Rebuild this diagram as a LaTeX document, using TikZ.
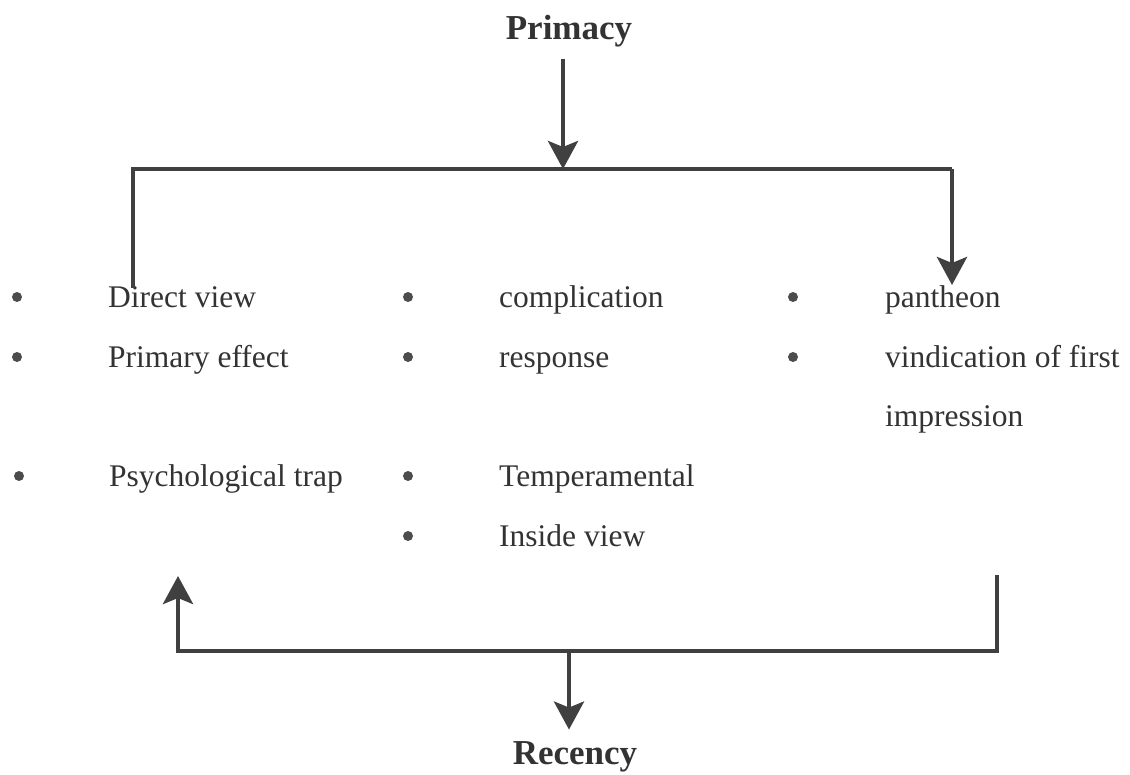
\documentclass[tikz,border=0pt]{standalone}
\usepackage{fontspec}
\setmainfont{Liberation Serif}
\usetikzlibrary{positioning, arrows.meta}

\begin{document}
\begin{tikzpicture}[
            x=1pt, y=-1pt,
            every node/.style={text=black!80},
            item/.style={anchor=base west, inner sep=0pt, font=\fontsize{31.5}{37}\selectfont},
            title/.style={inner sep=0pt, font=\fontsize{35}{42}\selectfont\bfseries},
            dot/.style={circle, fill=black!70, inner sep=0pt, minimum size=10pt},
            line/.style={draw=black!75, line width=4.5pt},
            arr/.style={line, -{Stealth[width=30pt, length=28pt, inset=6pt]}},
        ]
            \useasboundingbox (0,0) rectangle (1130,774);

            % titles
            \node[title] (prim) at (569,31) {Primacy};
            \node[title] (rec) at (575,757) {Recency};

            % corners of the two bars
            \coordinate (tl) at (133,169);
            \coordinate (tr) at (952,169);
            \coordinate (tmid) at (563,169);
            \coordinate (tlend) at (133,288);
            \coordinate (trend) at (952,285);
            \coordinate (bl) at (178,651);
            \coordinate (br) at (997,651);
            \coordinate (bmid) at (569,651);
            \coordinate (blend) at (178,576);
            \coordinate (brend) at (997,575);

            % first column
            \node[dot] (d1) at (17,297) {};
            \node[item] (a1) at (108,307) {Direct view};
            \node[dot] (d2) at (17,357) {};
            \node[item] (a2) at (108,367) {Primary effect};
            \node[dot] (d3) at (19,476) {};
            \node[item] (a3) at (109,486) {Psychological trap};

            % second column
            \node[dot] (e1) at (408,297) {};
            \node[item] (b1) at (499,307) {complication};
            \node[dot] (e2) at (408,357) {};
            \node[item] (b2) at (499,367) {response};
            \node[dot] (e3) at (408,476) {};
            \node[item] (b3) at (499,486) {Temperamental};
            \node[dot] (e4) at (408,536) {};
            \node[item] (b4) at (499,546) {Inside view};

            % third column
            \node[dot] (f1) at (793,297) {};
            \node[item] (c1) at (885,307) {pantheon};
            \node[dot] (f2) at (793,357) {};
            \node[item] (c2) at (885,367) {vindication of first};
            \node[item] (c3) at (885,426) {impression};

            % top connectors
            \draw[arr, shorten <=12pt] (prim.south -| tmid) -- (tmid);
            \draw[line] (tlend) -- (tl) -- (tr);
            \draw[arr] (tr) -- (trend);

            % bottom connectors
            \draw[arr] (brend) -- (br) -- (bl) -- (blend);
            \draw[arr, shorten >=12pt] (bmid) -- (bmid |- rec.north);
        \end{tikzpicture}
\end{document}
